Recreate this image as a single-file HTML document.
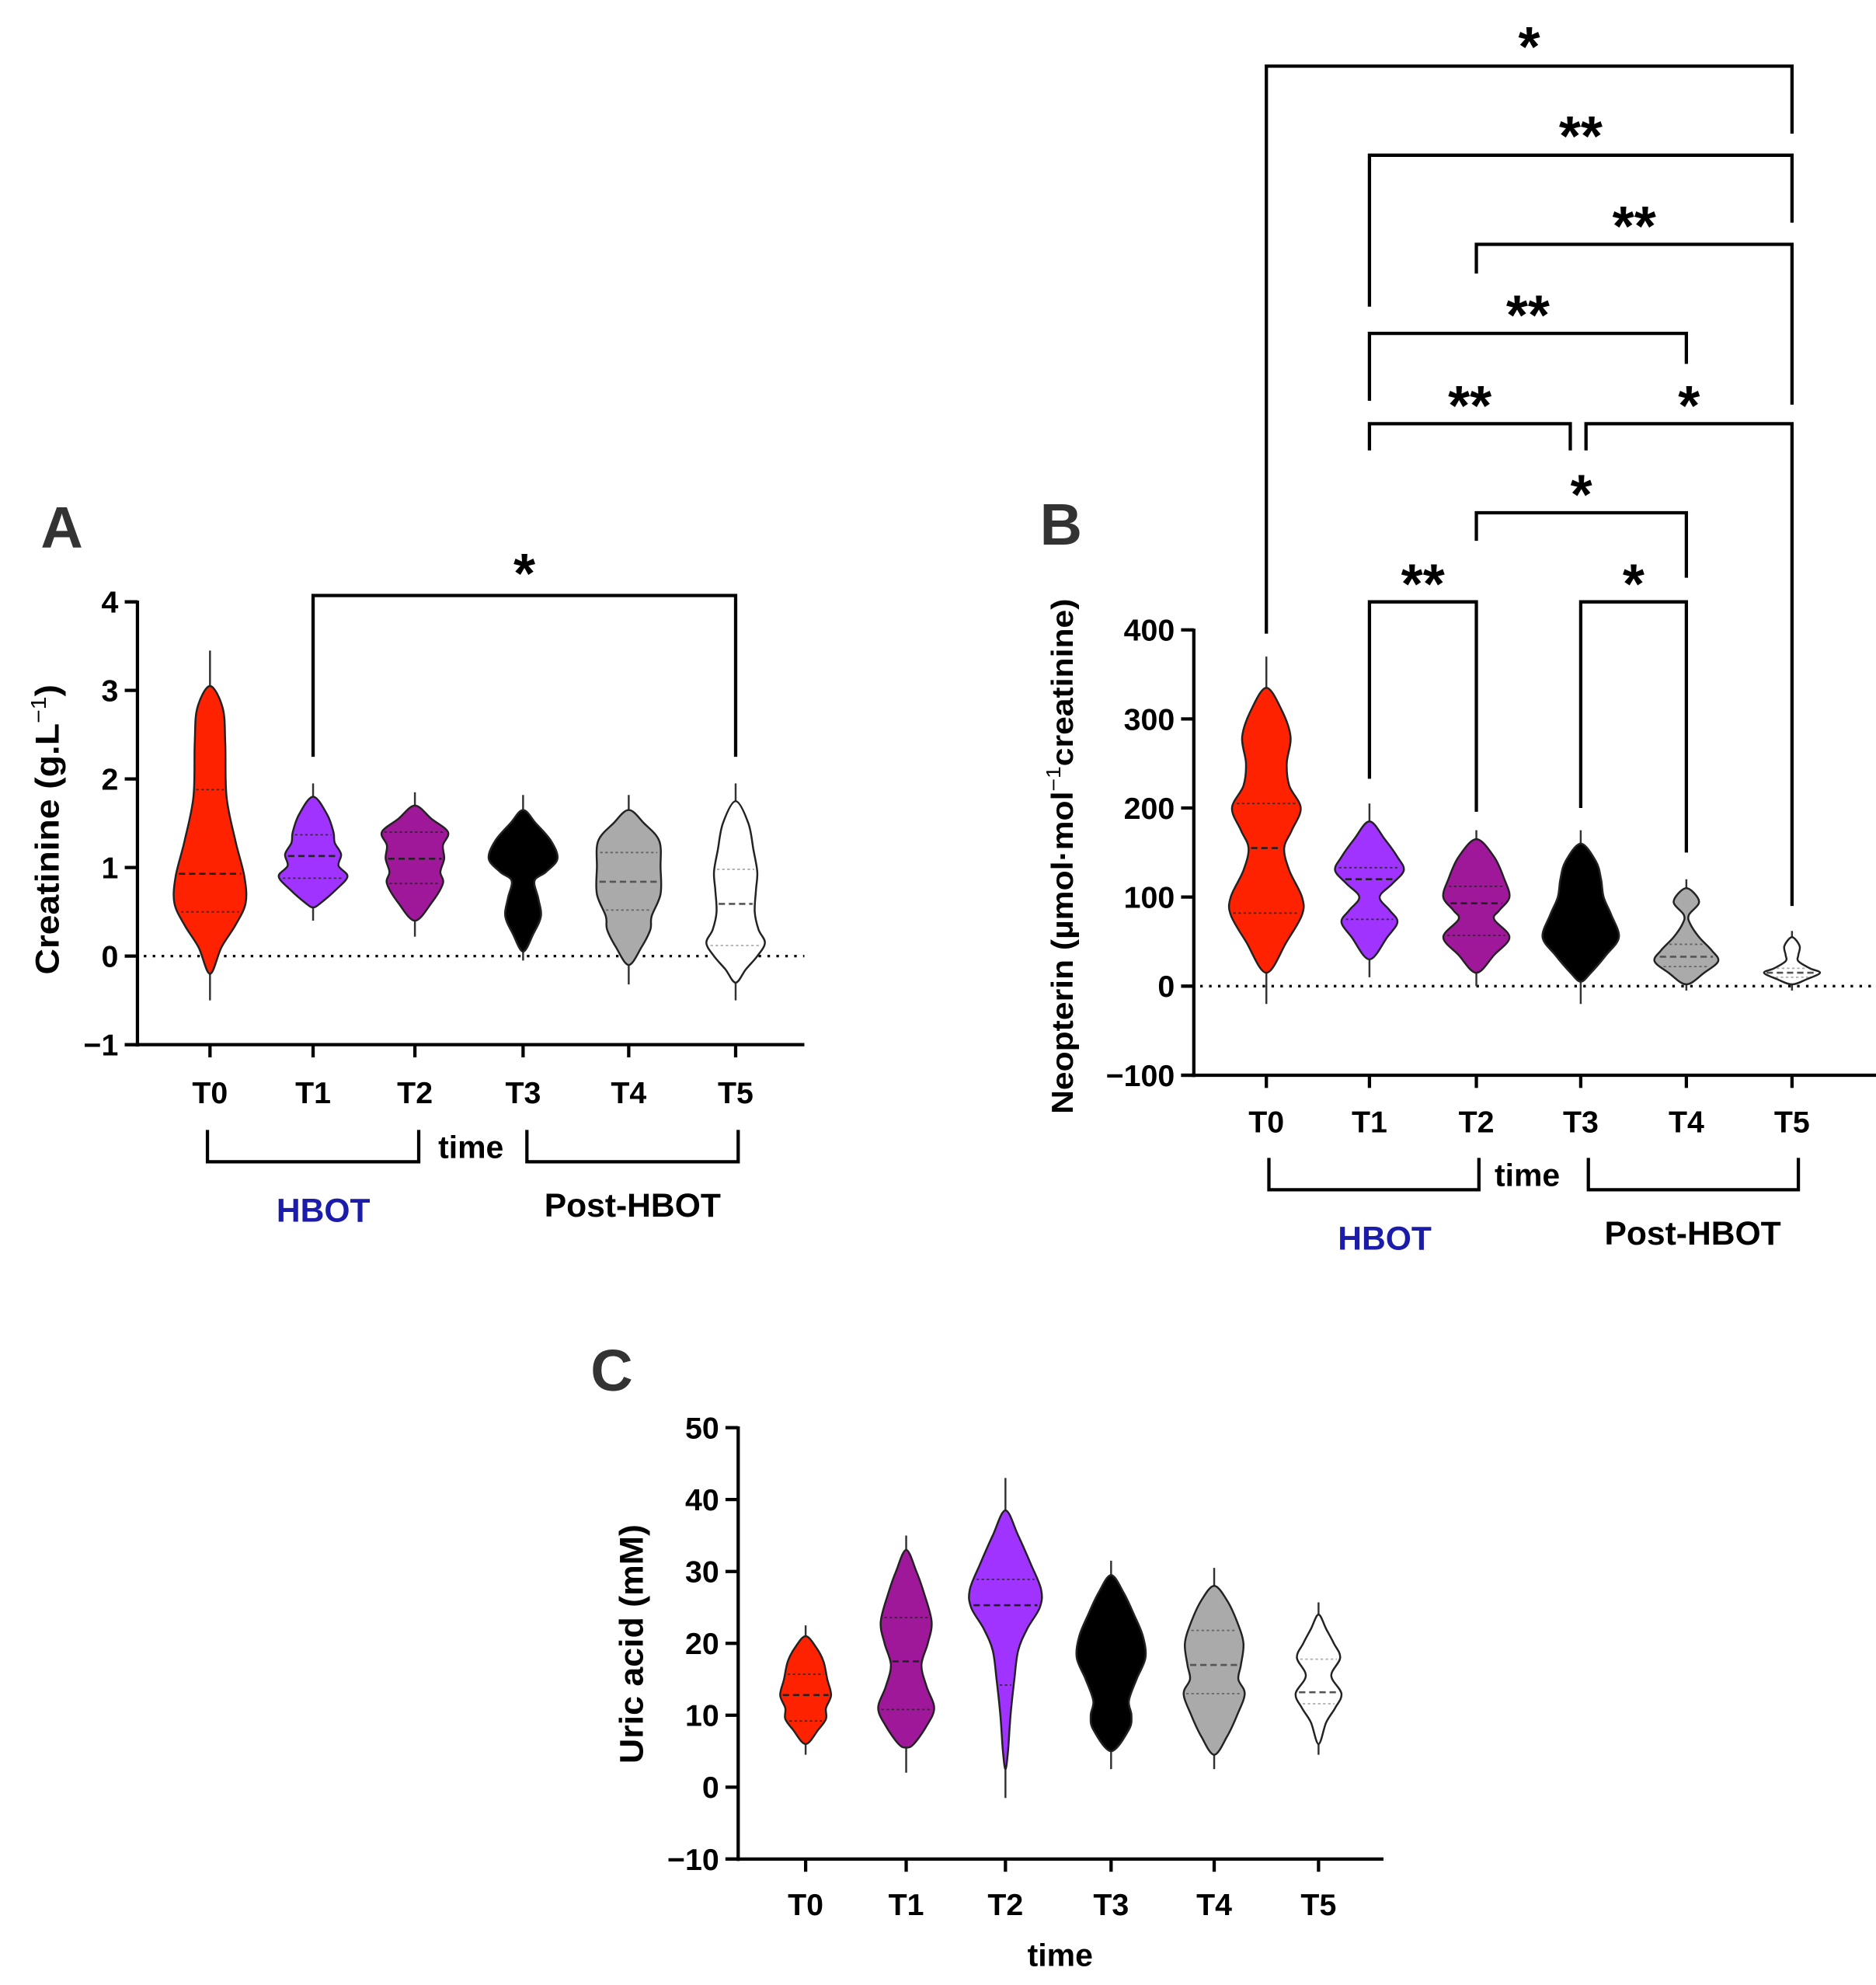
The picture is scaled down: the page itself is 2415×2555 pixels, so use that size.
<!DOCTYPE html>
<html><head><meta charset="utf-8"><style>
html,body{margin:0;padding:0;background:#fff;}
svg{display:block;}
text{font-family:"Liberation Sans",Arial,sans-serif;font-weight:bold;}
</style></head><body>
<svg id="fig" width="2415" height="2555" viewBox="0 0 1474 1560" preserveAspectRatio="none" xmlns="http://www.w3.org/2000/svg"></svg>
<script>
// ---------- Panel A: Creatinine ----------
const aCategories = ["T0","T1","T2","T3","T4","T5"];
const aTicks = [4,3,2,1,0,-1];
const aTickLabels = ["4","3","2","1","0","\u22121"];
const aMedians = [0.93,1.13,1.10,null,0.84,0.59];
const aQ1 = [0.50,0.88,0.82,null,0.52,0.12];
const aQ3 = [1.88,1.37,1.40,null,1.17,0.98];
const aWhiskerLo = [-0.5,0.4,0.22,-0.05,-0.32,-0.5];
const aWhiskerHi = [3.45,1.95,1.85,1.82,1.82,1.95];
const aProfiles = [
  [[3.05,0],[2.8,10],[2.4,12],[1.8,13],[1.3,20],[0.9,27],[0.6,28],[0.35,20],[0.1,9],[-0.2,0]],
  [[1.8,0],[1.6,11],[1.4,16],[1.28,17],[1.15,22],[1.02,20],[0.9,27],[0.75,18],[0.6,6],[0.55,0]],
  [[1.7,0],[1.55,13],[1.4,26],[1.25,22],[1.1,23],[0.95,20],[0.82,22],[0.6,13],[0.4,0]],
  [[1.65,0],[1.5,10],[1.3,22],[1.1,27],[0.95,18],[0.85,9],[0.65,12],[0.45,14],[0.25,8],[0.05,0]],
  [[1.65,0],[1.5,12],[1.3,24],[1.0,25],[0.7,25],[0.45,18],[0.3,17],[0.1,10],[-0.1,0]],
  [[1.75,0],[1.5,10],[1.2,14],[0.95,17],[0.75,16],[0.5,15],[0.3,18],[0.15,23],[0.0,17],[-0.15,8],[-0.3,0]]
];
const aSigPairs = [[1,5]];
const aSigStars = ["*"];

// ---------- Panel B: Neopterin ----------
const bCategories = ["T0","T1","T2","T3","T4","T5"];
const bTicks = [400,300,200,100,0,-100];
const bTickLabels = ["400","300","200","100","0","\u2212100"];
const bMedians = [155,120,93,null,33,15];
const bQ1 = [82,75,57,null,22,10];
const bQ3 = [205,133,112,null,47,20];
const bWhiskerLo = [-20,10,0,-20,-5,-5];
const bWhiskerHi = [370,205,175,175,120,62];
const bProfiles = [
  [[335,0],[310,12],[280,19],[250,16],[225,18],[200,27],[175,20],[155,14],[130,18],[100,28],[80,28],[50,16],[15,0]],
  [[185,0],[165,12],[145,22],[130,27],[115,18],[100,8],[85,16],[72,22],[55,14],[30,0]],
  [[165,0],[145,14],[120,22],[100,26],[85,18],[75,14],[55,26],[35,14],[15,0]],
  [[160,0],[140,12],[120,16],[100,18],[80,24],[55,30],[35,20],[15,8],[5,0]],
  [[110,0],[95,10],[80,2],[70,3],[55,10],[40,20],[28,25],[15,14],[2,0]],
  [[55,0],[45,6],[35,5],[28,5],[20,14],[15,22],[8,12],[2,0]]
];
const bSigLeft = [0,1,2,1,1,3.05,2,1,3];
const bSigRight = [5,5,5,4,2.9,5,4,2,4];
const bSigStars = ["*","**","**","**","**","*","*","**","*"];

// ---------- Panel C: Uric acid ----------
const cCategories = ["T0","T1","T2","T3","T4","T5"];
const cTicks = [50,40,30,20,10,0,-10];
const cTickLabels = ["50","40","30","20","10","0","\u221210"];
const cMedians = [12.8,17.5,25.3,null,17.0,13.2];
const cQ1 = [9.2,10.8,14.2,null,13.0,11.6];
const cQ3 = [15.7,23.6,28.9,null,21.8,17.8];
const cWhiskerLo = [4.5,2.0,-1.5,2.5,2.5,4.5];
const cWhiskerHi = [22.5,35,43,31.5,30.5,25.7];
const cProfiles = [
  [[21,0],[19.5,8],[17.5,14],[15,17],[12.8,20],[11,16],[9.5,16],[8,10],[6,0]],
  [[33,0],[30,8],[27,14],[23,20],[20,17],[17,12],[14,16],[11,22],[8.5,16],[6,6],[5.5,0]],
  [[38.5,0],[35,10],[31,20],[27.5,28],[25,27],[22,17],[19,10],[15,7],[10,4],[5,2],[2.5,0]],
  [[29.5,0],[27,10],[24,18],[21,25],[18,27],[15,20],[12,14],[10,16],[8,14],[5,0]],
  [[28,0],[26,10],[23,18],[20,23],[17,21],[15,19],[13,24],[10,18],[7,10],[4.5,0]],
  [[24,0],[22,6],[20,12],[18,17],[15.5,10],[13,18],[11,13],[9,6],[6,0]]
];

const colors = {red:"#ff2200",purple:"#a033ff",mag:"#a0189a",black:"#000",gray:"#aaaaaa",white:"#ffffff"};
const aFill = [colors.red,colors.purple,colors.mag,colors.black,colors.gray,colors.white];
const cFill = [colors.red,colors.mag,colors.purple,colors.black,colors.gray,colors.white];

const NS = "http://www.w3.org/2000/svg";
const svg = document.getElementById("fig");
function mk(tag, attrs, parent){
  const e = document.createElementNS(NS, tag);
  for (const k in attrs) e.setAttribute(k, attrs[k]);
  (parent||svg).appendChild(e);
  return e;
}
function txt(str, x, y, size, anchor, parent, fill){
  const t = mk("text",{x:x,y:y,"font-size":size,"text-anchor":anchor||"middle",fill:fill||"#000"},parent);
  t.textContent = str;
  return t;
}
function linear(d0,d1,r0,r1){ return v => r0 + (v-d0)*(r1-r0)/(d1-d0); }

function closedSmooth(pts){
  const n = pts.length; let d = "M"+pts[0][0].toFixed(2)+","+pts[0][1].toFixed(2);
  for (let i=0;i<n;i++){
    const p0=pts[(i-1+n)%n],p1=pts[i],p2=pts[(i+1)%n],p3=pts[(i+2)%n];
    const c1=[p1[0]+(p2[0]-p0[0])/6,p1[1]+(p2[1]-p0[1])/6];
    const c2=[p2[0]-(p3[0]-p1[0])/6,p2[1]-(p3[1]-p1[1])/6];
    d+="C"+c1[0].toFixed(2)+","+c1[1].toFixed(2)+" "+c2[0].toFixed(2)+","+c2[1].toFixed(2)+" "+p2[0].toFixed(2)+","+p2[1].toFixed(2);
  }
  return d+"Z";
}
function halfAt(prof, v){
  for (let i=0;i<prof.length-1;i++){
    const a=prof[i],b=prof[i+1];
    if ((v<=a[0]&&v>=b[0])) return a[1]+(v-a[0])*(b[1]-a[1])/(b[0]-a[0]);
  }
  return 0;
}

function drawPanel(cfg){
  const g = mk("g",{});
  
  
  const y = linear(cfg.dmin, cfg.dmax, cfg.ybot, cfg.ytop);
  const x = i => cfg.catX[i];
  if (cfg.zero){
    const z = mk("line",{x1:cfg.axX+5,x2:cfg.axEnd,y1:y(0),y2:y(0),stroke:"#000","stroke-width":2,"stroke-dasharray":"2 5"},g);
    
    
  }
  cfg.profiles.forEach((prof,i)=>{
    const vg = mk("g",{},g);
    
    
    const cx = x(i);
    const fill = cfg.fills[i];
    mk("line",{x1:cx,x2:cx,y1:y(cfg.wlo[i]),y2:y(cfg.whi[i]),stroke:"#333","stroke-width":1.5},vg);
    const right = prof.map(p=>[cx+p[1],y(p[0])]);
    const left = prof.slice(1,-1).reverse().map(p=>[cx-p[1],y(p[0])]);
    mk("path",{d:closedSmooth(right.concat(left)),fill:fill,stroke:"#222","stroke-width":1.5},vg);
    const lineCol = (fill===colors.white||fill===colors.gray)?"#555":"#222";
    if (cfg.med[i]!==null){
      const hm = halfAt(prof,cfg.med[i])-2;
      mk("line",{x1:cx-hm,x2:cx+hm,y1:y(cfg.med[i]),y2:y(cfg.med[i]),stroke:lineCol,"stroke-width":1.6,"stroke-dasharray":"5 3"},vg);
      [cfg.q1[i],cfg.q3[i]].forEach(q=>{
        const hq = halfAt(prof,q)-2;
        mk("line",{x1:cx-hq,x2:cx+hq,y1:y(q),y2:y(q),stroke:fill===colors.white?"#999":lineCol,"stroke-width":1.1,"stroke-dasharray":"2 2",opacity:0.8},vg);
      });
    }
  });
  const ya = mk("line",{x1:cfg.axX,x2:cfg.axX,y1:cfg.ytop-1,y2:cfg.ybot+1.5,stroke:"#000","stroke-width":2.6},g);
  
  
  const xa = mk("line",{x1:cfg.axX-10,x2:cfg.axEnd,y1:cfg.ybot,y2:cfg.ybot,stroke:"#000","stroke-width":2.6},g);
  
  
  cfg.ticks.forEach((t,i)=>{
    mk("line",{x1:cfg.axX-10,x2:cfg.axX,y1:y(t),y2:y(t),stroke:"#000","stroke-width":2.6},g);
    const tl = txt(cfg.tickLabels[i], cfg.axX-15, y(t)+8.5, 24, "end", g);
    
    
  });
  cfg.cats.forEach((c,i)=>{
    mk("line",{x1:x(i),x2:x(i),y1:cfg.ybot,y2:cfg.ybot+10,stroke:"#000","stroke-width":2.6},g);
    const cl = txt(c, x(i), cfg.ybot+cfg.catDy, 24, "middle", g);
    
    
  });
  const yt = mk("text",{x:0,y:0,"font-size":cfg.titleSize,"text-anchor":"middle",transform:"translate("+cfg.titleX+","+cfg.titleY+") rotate(-90)",textLength:cfg.titleLen,lengthAdjust:"spacingAndGlyphs"},g);
  
  
  cfg.title(yt);
  const L = txt(cfg.letter, cfg.letterX, cfg.letterY, 46, "start", g, "#333");
  
  
  return {g:g,y:y,x:x};
}
function tspan(parent, s, extra){
  const t = mk("tspan", extra||{}, parent); t.textContent = s; return t;
}
function groupBrackets(g, x1a, x2a, x1b, x2b, yb, timeX, timeY, hx, hy, px, py){
  [[x1a,x2a],[x1b,x2b]].forEach(p=>{
    const br = mk("path",{d:"M"+p[0]+","+(yb-25)+"V"+yb+"H"+p[1]+"V"+(yb-25),fill:"none",stroke:"#000","stroke-width":2.6},g);
    
    
  });
  const t = txt("time", timeX, timeY, 25, "middle", g);
  
  
  const h = txt("HBOT", hx, hy, 26, "middle", g, "#1c1caa");
  
  
  const p = txt("Post-HBOT", px, py, 26, "middle", g);
  
  
}

// Panel A
const A = drawPanel({name:"panel-a-creatinine",cats:aCategories,catX:[165,246,326,411,494,578],
  dmin:-1,dmax:4,ybot:821,ytop:473,axX:108,axEnd:632,zero:true,
  ticks:aTicks,tickLabels:aTickLabels,profiles:aProfiles,fills:aFill,
  wlo:aWhiskerLo,whi:aWhiskerHi,med:aMedians,q1:aQ1,q3:aQ3,catDy:46,
  titleX:46,titleY:652,titleSize:26,titleLen:228,
  title:t=>{tspan(t,"Creatinine (g.L");tspan(t,"\u22121",{dy:-10,"font-size":17,"font-weight":"normal"});tspan(t,")",{dy:10});},
  letter:"A",letterX:32,letterY:430});
groupBrackets(A.g,163,329,414,580,913,370,910,254,960,497,956);
aSigPairs.forEach((p,i)=>{
  const yl=468, xl=A.x(p[0]), xr=A.x(p[1]);
  const s = mk("path",{d:"M"+xl+","+A.y(2.25)+"V"+yl+"H"+xr+"V"+A.y(2.25),fill:"none",stroke:"#000","stroke-width":2.6},A.g);
  
  
  const st = txt(aSigStars[i], (xl+xr)/2, 466, 44, "middle", A.g);
  
  
});

// Panel B
const B = drawPanel({name:"panel-b-neopterin",cats:bCategories,catX:[995,1076,1160,1242,1325,1408],
  dmin:-100,dmax:400,ybot:845,ytop:495,axX:938,axEnd:1474,zero:true,
  ticks:bTicks,tickLabels:bTickLabels,profiles:bProfiles,fills:aFill,
  wlo:bWhiskerLo,whi:bWhiskerHi,med:bMedians,q1:bQ1,q3:bQ3,catDy:45,
  titleX:843,titleY:673,titleSize:24,titleLen:405,
  title:t=>{tspan(t,"Neopterin (\u00b5mol\u00b7mol");tspan(t,"\u22121",{dy:-10,"font-size":16,"font-weight":"normal"});tspan(t,"creatinine)",{dy:10});},
  letter:"B",letterX:817,letterY:428});
groupBrackets(B.g,997,1162,1248,1413,935,1200,932,1088,982,1330,978);
const bLevelY = [52,122,192,262,333,333,403,473,473];
const bDropL = [498,241,215,315,354,354,425,612,635];
const bDropR = [105,175,318,286,354,712,454,638,670];
const bStarY = [30,100,171,241,312,312,382,452,452];
const catXB = [995,1076,1160,1242,1325,1408];
function bx(v){ const i=Math.floor(v), f=v-i; return i>=5?catXB[5]:catXB[i]+f*(catXB[i+1]-catXB[i]); }
bSigLeft.forEach((l,i)=>{
  const xl=bx(l), xr=bx(bSigRight[i]), yl=bLevelY[i];
  const s = mk("path",{d:"M"+xl+","+bDropL[i]+"V"+yl+"H"+xr+"V"+bDropR[i],fill:"none",stroke:"#000","stroke-width":2.6},B.g);
  
  
  let sx=(xl+xr)/2;
  const st = txt(bSigStars[i], sx, bStarY[i]+22, 44, "middle", B.g);
  
  
});

// Panel C
const C = drawPanel({name:"panel-c-uric-acid",cats:cCategories,catX:[633,712,790,873,954,1036],
  dmin:-10,dmax:50,ybot:1461,ytop:1122,axX:580,axEnd:1087,zero:false,
  ticks:cTicks,tickLabels:cTickLabels,profiles:cProfiles,fills:cFill,
  wlo:cWhiskerLo,whi:cWhiskerHi,med:cMedians,q1:cQ1,q3:cQ3,catDy:44,
  titleX:505,titleY:1292,titleSize:26,titleLen:188,
  title:t=>{tspan(t,"Uric acid (mM)");},
  letter:"C",letterX:464,letterY:1093});
const ct = txt("time", 833, 1545, 25, "middle", C.g);


</script>
</body></html>
